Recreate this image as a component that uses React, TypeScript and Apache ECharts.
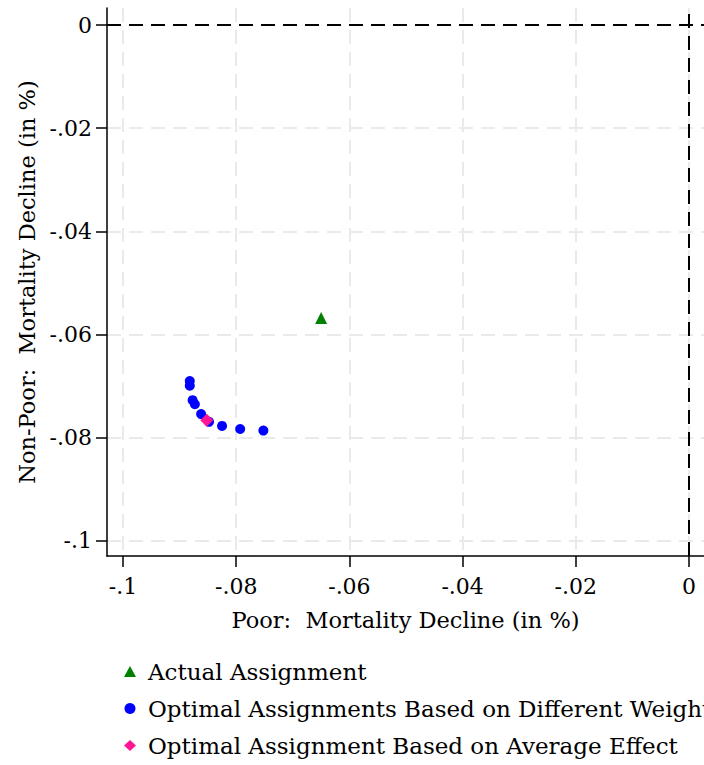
import React, { useEffect, useRef } from 'react';
import * as echarts from 'echarts';

// Data
const actualX = [-0.065];
const actualY = [-0.0568];
const weightsX = [-0.0882, -0.0882, -0.0877, -0.0873, -0.0862, -0.0848, -0.0825, -0.0793, -0.0752];
const weightsY = [-0.069, -0.0699, -0.0727, -0.0735, -0.0754, -0.0769, -0.0777, -0.0783, -0.0786];
const averageX = [-0.0852];
const averageY = [-0.0766];
const tickValues = [-0.1, -0.08, -0.06, -0.04, -0.02, 0];

const seriesNames = [
  'Actual Assignment',
  'Optimal Assignments Based on Different Weights',
  'Optimal Assignment Based on Average Effect',
];

const FONT = 'DejaVu Serif';

const fmt = (v: number) => (v === 0 ? '0' : String(v).replace('0.', '.'));

const zip = (xs: number[], ys: number[]) => xs.map((x, i) => [x, ys[i]]);

export default function App() {
  const ref = useRef<HTMLDivElement>(null);
  useEffect(() => {
    document.body.style.margin = '0';
    const chart = echarts.init(ref.current!, null, { renderer: 'svg' });
    const axisCommon = (name: string, nameGap: number, labelMargin: number) => ({
      type: 'value' as const,
      name,
      nameLocation: 'middle' as const,
      nameGap,
      nameTextStyle: { fontFamily: FONT, fontSize: 22.5, color: '#000' },
      axisLine: { show: true, onZero: false, lineStyle: { color: '#000', width: 1.5 } },
      axisTick: { show: true, length: 11, customValues: tickValues, lineStyle: { color: '#000', width: 1.5 } },
      axisLabel: { customValues: tickValues, formatter: fmt, fontFamily: FONT, fontSize: 22, color: '#000', margin: labelMargin },
      splitLine: { show: true, lineStyle: { color: '#eaeaea', width: 2, type: [14, 8] } },
    });
    chart.setOption({
      animation: false,
      backgroundColor: '#fff',
      grid: { left: 107, top: 8, right: 0, bottom: 209, containLabel: false },
      xAxis: { ...axisCommon('Poor:  Mortality Decline (in %)', 52, 19), min: -0.102827, max: 0.00265 },
      yAxis: { ...axisCommon('Non-Poor:  Mortality Decline (in %)', 69, 15), min: -0.102907, max: 0.003295 },
      legend: {
        orient: 'vertical',
        left: 124,
        top: 660,
        padding: 0,
        itemWidth: 12,
        itemHeight: 11,
        itemGap: 14,
        data: [
          { name: seriesNames[0], icon: 'triangle' },
          { name: seriesNames[1], icon: 'circle' },
          { name: seriesNames[2], icon: 'diamond' },
        ],
        textStyle: { fontFamily: FONT, fontSize: 23, color: '#000', lineHeight: 23, padding: [0, 0, 0, 7] },
      },
      series: [
        {
          name: seriesNames[1],
          type: 'scatter',
          data: zip(weightsX, weightsY),
          symbol: 'circle',
          symbolSize: 10,
          itemStyle: { color: '#0000ff', opacity: 1 },
          z: 3,
          markLine: {
            silent: true,
            symbol: 'none',
            label: { show: false },
            lineStyle: { color: '#000', type: [14, 8], width: 2 },
            data: [{ xAxis: 0 }, { yAxis: 0 }],
          },
        },
        {
          name: seriesNames[0],
          type: 'scatter',
          data: zip(actualX, actualY),
          symbol: 'triangle',
          symbolSize: 12,
          itemStyle: { color: '#008000', opacity: 1 },
          z: 4,
        },
        {
          name: seriesNames[2],
          type: 'scatter',
          data: zip(averageX, averageY),
          symbol: 'diamond',
          symbolSize: 13,
          itemStyle: { color: '#ff1493', opacity: 1 },
          z: 5,
        },
      ],
    });
    return () => chart.dispose();
  }, []);
  return <div ref={ref} style={{ width: 704, height: 765 }} />;
}
